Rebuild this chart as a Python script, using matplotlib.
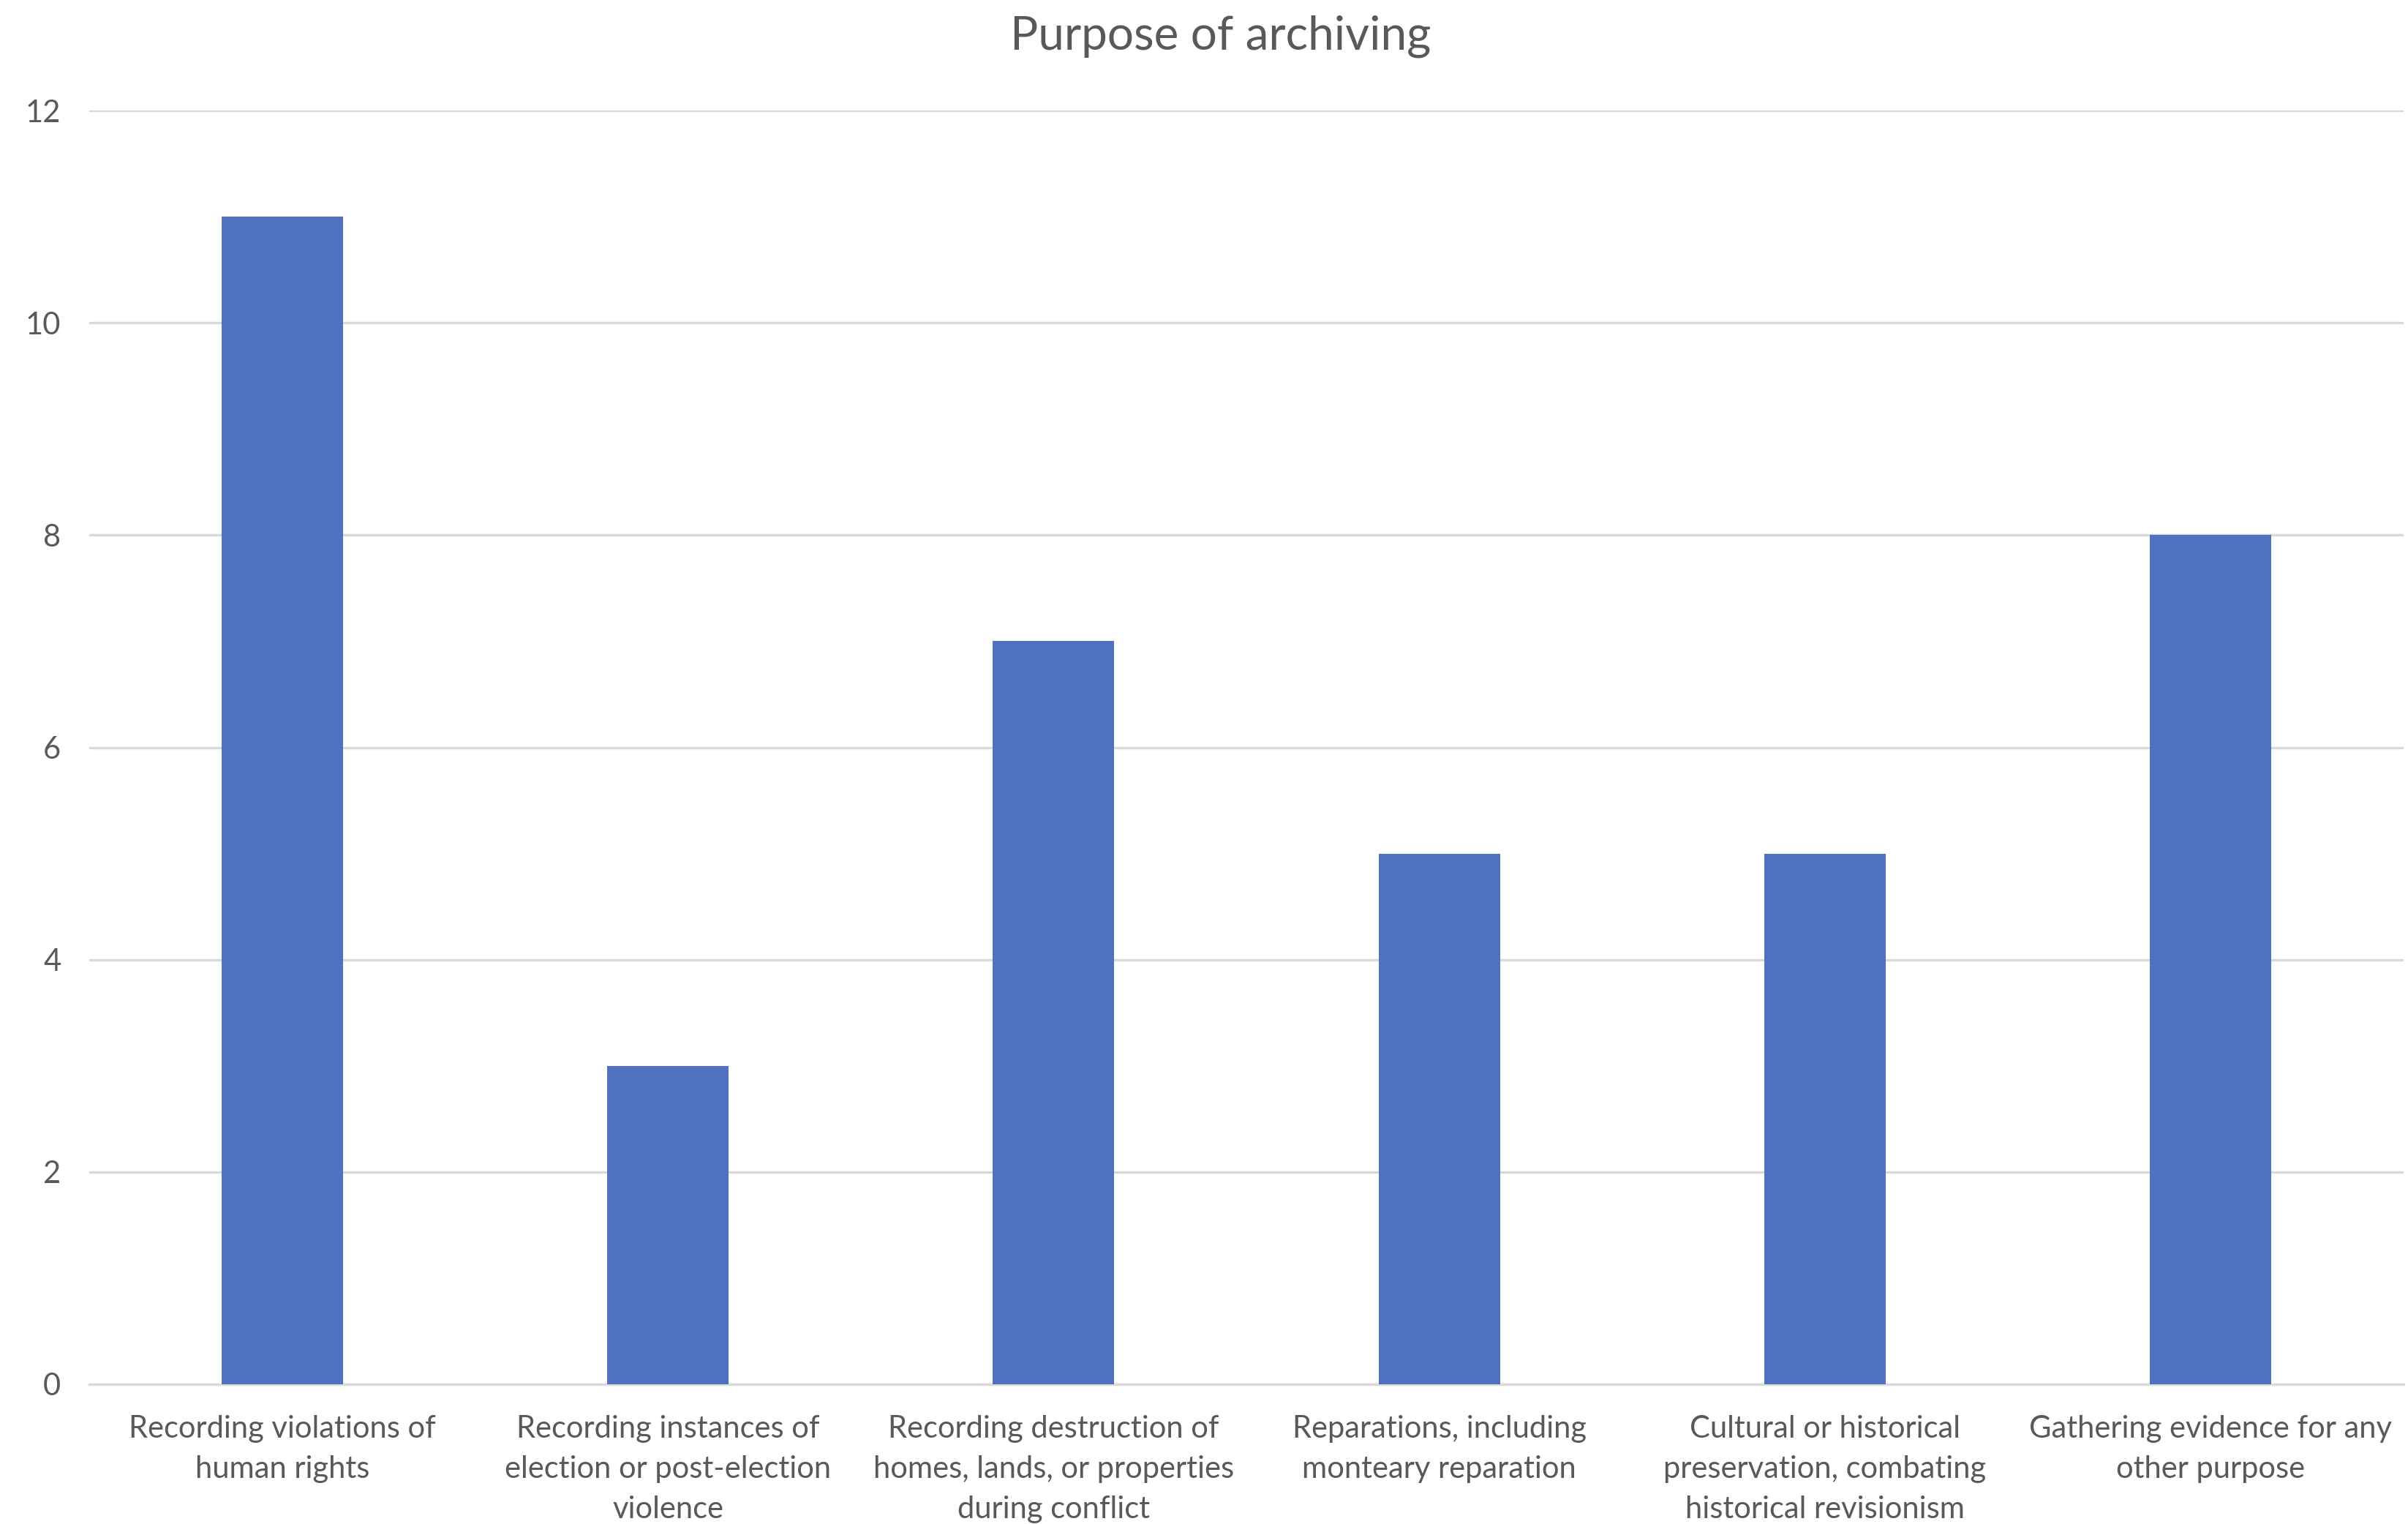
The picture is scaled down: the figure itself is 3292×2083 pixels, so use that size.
import matplotlib
matplotlib.use("Agg")
import matplotlib.pyplot as plt

categories = [
    "Recording violations of\nhuman rights",
    "Recording instances of\nelection or post-election\nviolence",
    "Recording destruction of\nhomes, lands, or properties\nduring conflict",
    "Reparations, including\nmonteary reparation",
    "Cultural or historical\npreservation, combating\nhistorical revisionism",
    "Gathering evidence for any\nother purpose",
]
values = [11, 3, 7, 5, 5, 8]
yticks = [0, 2, 4, 6, 8, 10, 12]
title = "Purpose of archiving"

bar_color = "#4F71BE"
text_color = "#595959"
grid_color = "#D9D9D9"

plt.rcParams["font.family"] = ["Lato", "DejaVu Sans"]

fig = plt.figure(figsize=(16.46, 10.415), dpi=200)
ax = fig.add_axes([0.0371, 0.0917, 0.961, 0.8358])

x = list(range(len(categories)))
ax.bar(x, values, width=0.315, color=bar_color, zorder=3)

ax.set_xlim(-0.5, len(categories) - 0.5)
ax.set_ylim(0, 12)
ax.set_yticks(yticks)
ax.set_yticklabels([str(t) for t in yticks])
ax.set_xticks(x)
ax.set_xticklabels(categories, linespacing=1.55)

ax.grid(axis="y", color=grid_color, linewidth=1.2, zorder=0)
for s in ["top", "right", "left"]:
    ax.spines[s].set_visible(False)
ax.spines["bottom"].set_color(grid_color)
ax.spines["bottom"].set_linewidth(1.2)

ax.tick_params(axis="both", length=0, colors=text_color, labelsize=15)
ax.tick_params(axis="y", pad=14)
ax.tick_params(axis="x", pad=15)

fig.text(0.507, 0.976, title, ha="center", va="center", fontsize=23, color=text_color)

fig.savefig("out.png", dpi=200, facecolor="white")
